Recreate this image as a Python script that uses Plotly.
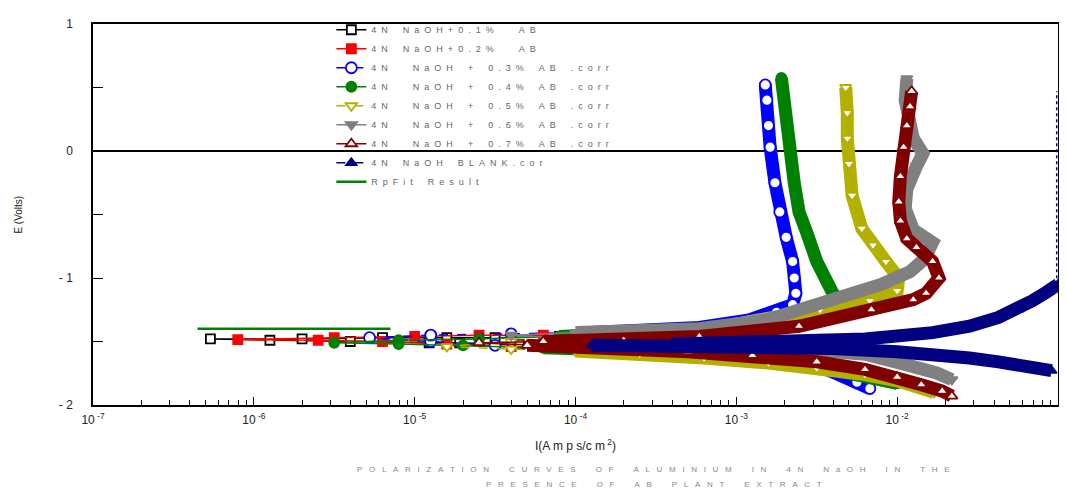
import plotly.graph_objects as go

# ---------------- data (log10 of current density in A/cm^2, potential E in V) ----------------
# 4N NaOH + 0.1% AB (black)
ab01_logI = [-3.8, -4.1, -4.35, -4.72, -4.91, -5.4, -5.9, -6.27, -5.7, -5.2, -4.8, -4.5, -4.1, -3.8]
ab01_E = [-1.52, -1.53, -1.525, -1.51, -1.51, -1.50, -1.49, -1.48, -1.48, -1.47, -1.47, -1.47, -1.46, -1.46]

# 4N NaOH + 0.2% AB (red)
ab02_logI = [-3.2, -3.6, -4.0, -4.4, -4.8, -5.2, -5.6, -6.1, -5.5, -5.0, -4.6, -4.2, -3.8, -3.4, -3.2]
ab02_E = [-1.56, -1.55, -1.55, -1.54, -1.52, -1.50, -1.49, -1.485, -1.47, -1.46, -1.45, -1.45, -1.46, -1.45, -1.44]

# 0.3% AB (blue)
ab03_cath_logI = [-2.17, -2.25, -2.40, -2.60, -2.85, -3.10, -3.40, -3.70, -4.10, -4.50, -4.90, -5.28]
ab03_cath_E = [-1.87, -1.82, -1.74, -1.65, -1.61, -1.585, -1.57, -1.56, -1.545, -1.53, -1.50, -1.47]
ab03_anod_logI = [-4.90, -4.40, -3.90, -3.50, -3.23, -2.92, -2.75, -2.65, -2.63, -2.64, -2.65, -2.69,
                  -2.73, -2.76, -2.79, -2.80, -2.81, -2.82]
ab03_anod_E = [-1.45, -1.44, -1.43, -1.42, -1.39, -1.33, -1.27, -1.21, -1.12, -1.00, -0.87, -0.68,
               -0.48, -0.25, 0.03, 0.20, 0.40, 0.52]

# 0.4% AB (green)
ab04_cath_logI = [-2.00, -2.10, -2.25, -2.45, -2.70, -3.00, -3.40, -3.80, -4.20, -4.70, -5.10, -5.50]
ab04_cath_E = [-1.83, -1.80, -1.76, -1.71, -1.67, -1.63, -1.59, -1.565, -1.55, -1.53, -1.52, -1.51]
ab04_anod_logI = [-5.10, -4.60, -4.10, -3.70, -3.30, -2.92, -2.61, -2.44, -2.34, -2.40, -2.50, -2.56,
                  -2.61, -2.64, -2.67, -2.69, -2.71, -2.72]
ab04_anod_E = [-1.49, -1.48, -1.46, -1.44, -1.41, -1.37, -1.33, -1.28, -1.20, -1.12, -0.87, -0.65,
               -0.48, -0.25, 0.03, 0.25, 0.45, 0.575]

# 0.5% AB (olive)
ab05_cath_logI = [-1.77, -1.85, -2.00, -2.20, -2.50, -2.80, -3.20, -3.60, -4.00, -4.40, -4.80]
ab05_cath_E = [-1.90, -1.86, -1.81, -1.76, -1.71, -1.67, -1.63, -1.60, -1.575, -1.56, -1.54]
ab05_anod_logI = [-4.40, -4.00, -3.60, -3.20, -2.86, -2.48, -2.17, -2.00, -1.99, -2.07, -2.15, -2.22,
                  -2.28, -2.30, -2.31, -2.31, -2.32]
ab05_anod_E = [-1.50, -1.48, -1.45, -1.41, -1.33, -1.25, -1.18, -1.10, -1.00, -0.87, -0.74, -0.61,
               -0.35, -0.10, 0.10, 0.30, 0.50]

# 0.6% AB (gray)
ab06_cath_logI = [-1.66, -1.75, -1.95, -2.20, -2.60, -3.00, -3.50, -4.00, -4.40]
ab06_cath_E = [-1.80, -1.75, -1.68, -1.60, -1.56, -1.54, -1.52, -1.48, -1.45]
ab06_anod_logI = [-4.00, -3.60, -3.23, -2.81, -2.40, -2.10, -1.92, -1.83, -1.78, -1.90, -1.95, -1.94,
                  -1.88, -1.84, -1.90, -1.93, -1.95, -1.94]
ab06_anod_E = [-1.43, -1.42, -1.40, -1.33, -1.18, -1.05, -0.95, -0.85, -0.72, -0.62, -0.45, -0.30,
               -0.12, -0.02, 0.10, 0.25, 0.40, 0.57]

# 0.7% AB (dark red)
ab07_cath_logI = [-1.66, -1.72, -1.85, -2.00, -2.20, -2.50, -2.90, -3.30, -3.80, -4.30, -4.60]
ab07_cath_E = [-1.93, -1.89, -1.84, -1.78, -1.72, -1.66, -1.61, -1.58, -1.555, -1.53, -1.51]
ab07_anod_logI = [-4.20, -3.70, -3.23, -2.61, -2.16, -1.90, -1.82, -1.74, -1.78, -1.88, -1.94, -1.98,
                  -1.99, -1.98, -1.96, -1.94, -1.92, -1.91]
ab07_anod_E = [-1.50, -1.49, -1.46, -1.38, -1.25, -1.17, -1.12, -1.00, -0.87, -0.76, -0.69, -0.55,
               -0.40, -0.20, 0.03, 0.20, 0.35, 0.47]

# BLANK (navy)
blank_cath_logI = [-1.04, -1.20, -1.37, -1.55, -1.78, -2.00, -2.40, -2.80, -3.30, -3.90]
blank_cath_E = [-1.73, -1.69, -1.66, -1.63, -1.60, -1.58, -1.555, -1.545, -1.535, -1.53]
blank_anod_logI = [-3.40, -3.00, -2.60, -2.20, -1.78, -1.55, -1.37, -1.25, -1.16, -1.07, -1.00]
blank_anod_E = [-1.52, -1.515, -1.50, -1.48, -1.43, -1.38, -1.31, -1.25, -1.18, -1.11, -1.05]
# part of the blank curve beyond the axis, drawn along the right border
blank_clip_logI = [-1.008, -1.008]
blank_clip_E = [-1.05, 0.47]

# Rp fit result (green line)
rpfit_logI = [-6.35, -5.15]
rpfit_E = [-1.40, -1.40]

legend_labels = [
    "4N NaOH+0.1%  AB",
    "4N NaOH+0.2%  AB",
    "4N  NaOH + 0.3% AB .corr",
    "4N  NaOH + 0.4% AB .corr",
    "4N  NaOH + 0.5% AB .corr",
    "4N  NaOH + 0.6% AB .corr",
    "4N  NaOH + 0.7% AB .corr",
    "4N NaOH BLANK.cor",
    "RpFit Result",
]

x_tick_exp = [-7, -6, -5, -4, -3, -2, -1]
x_tick_text = ["10<sup> -7</sup>", "10<sup> -6</sup>", "10<sup> -5</sup>", "10<sup> -4</sup>",
               "10<sup> -3</sup>", "10<sup> -2</sup>", "10<sup> -1</sup>"]
y_tick_vals = [-2, -1, 0, 1]
y_tick_text = ["- 2", "- 1", "0", "1"]

title_line1 = "POLARIZATION CURVES OF ALUMINIUM IN 4N NaOH IN THE"
title_line2 = "PRESENCE OF AB PLANT EXTRACT"


def spaced(s, gap):
    """Letter-spaced rendering of a label, as in the original chart."""
    sp = "\u00a0" * gap
    out = []
    for ch in s:
        out.append(sp * 2 if ch == " " else ch + sp)
    return "".join(out).rstrip("\u00a0")


# ---------------- figure ----------------
BAND_W = 13
THR = -4.3
fig = go.Figure()


def to_I(logs):
    return [10 ** v for v in logs]


def add_band(logI, E, color):
    xs = [10 ** l for l in logI if l >= THR]
    ys = [e for l, e in zip(logI, E) if l >= THR]
    fig.add_trace(go.Scatter(x=xs, y=ys, mode="lines", line=dict(color=color, width=BAND_W),
                             showlegend=False, hoverinfo="skip"))


def add_series(name, logI, E, color, symbol, msize, fill, dash="solid", lw=1.5):
    fig.add_trace(go.Scatter(
        x=to_I(logI), y=E, mode="lines+markers", name=spaced(name, 2),
        line=dict(color=color, width=lw, dash=dash),
        marker=dict(symbol=symbol, size=msize, color=fill, line=dict(color=color, width=1.8)),
    ))


add_series(legend_labels[0], ab01_logI, ab01_E, "black", "square", 9, "white")
add_series(legend_labels[1], ab02_logI, ab02_E, "#ff0000", "square", 9, "#ff0000")

series = [
    (legend_labels[2], ab03_cath_logI, ab03_cath_E, ab03_anod_logI, ab03_anod_E, "#0000ff", "circle", 11, "white", "dash"),
    (legend_labels[3], ab04_cath_logI, ab04_cath_E, ab04_anod_logI, ab04_anod_E, "#008000", "circle", 10, "#008000", "solid"),
    (legend_labels[4], ab05_cath_logI, ab05_cath_E, ab05_anod_logI, ab05_anod_E, "#b4b000", "triangle-down", 10, "white", "dash"),
    (legend_labels[5], ab06_cath_logI, ab06_cath_E, ab06_anod_logI, ab06_anod_E, "#808080", "triangle-down", 10, "#808080", "solid"),
    (legend_labels[6], ab07_cath_logI, ab07_cath_E, ab07_anod_logI, ab07_anod_E, "#800000", "triangle-up", 10, "white", "solid"),
    (legend_labels[7], blank_cath_logI, blank_cath_E, blank_anod_logI, blank_anod_E, "#000080", "triangle-up", 9, "#000080", "dash"),
]

for name, cl, ce, al, ae, color, sym, ms, fill, dash in series:
    add_band(cl, ce, color)
    add_band(al, ae, color)
    add_series(name, cl + al, ce + ae, color, sym, ms, fill, dash)

fig.add_trace(go.Scatter(x=to_I(blank_clip_logI), y=blank_clip_E, mode="lines",
                         line=dict(color="#000080", width=1.5, dash="dot"),
                         showlegend=False, hoverinfo="skip"))

fig.add_trace(go.Scatter(x=to_I(rpfit_logI), y=rpfit_E, mode="lines", name=spaced(legend_labels[8], 2),
                         line=dict(color="#008000", width=2.5)))

# the page adds an 8 px body margin, so the figure is 8 px smaller than the window
fig.update_layout(
    width=1059, height=485,
    margin=dict(l=85, r=7, t=8, b=88),
    paper_bgcolor="white", plot_bgcolor="white",
    font=dict(family="Liberation Sans, Arial, sans-serif", color="#222"),
    showlegend=True,
    legend=dict(x=0.247, y=1.023, xanchor="left", yanchor="top",
                bgcolor="rgba(0,0,0,0)", font=dict(size=9, color="#666"),
                tracegroupgap=0, itemclick=False),
    xaxis=dict(
        type="log", range=[-7, -1],
        tickvals=[10 ** e for e in x_tick_exp], ticktext=x_tick_text,
        ticks="inside", ticklen=8, tickwidth=1.2, tickcolor="black",
        minor=dict(ticks="inside", ticklen=5, tickwidth=1, tickcolor="black", dtick="D1", showgrid=False),
        showgrid=False, showline=True, linecolor="black", linewidth=1.5, mirror=True,
        tickfont=dict(size=12, color="#222"), ticklabelstandoff=3,
        zeroline=False,
    ),
    yaxis=dict(
        range=[-2, 1], tickvals=y_tick_vals, ticktext=y_tick_text,
        ticks="inside", ticklen=10, tickwidth=1.2, tickcolor="black",
        minor=dict(ticks="inside", ticklen=10, tickwidth=1.2, tickcolor="black", dtick=0.5, showgrid=False),
        showgrid=False, showline=True, linecolor="black", linewidth=1.5, mirror=True,
        zeroline=True, zerolinecolor="black", zerolinewidth=1.5,
        tickfont=dict(size=12, color="#222"), ticklabelstandoff=16,
    ),
    annotations=[
        dict(text="I(A m p s/c m<sup> 2</sup>)", xref="paper", yref="paper", x=0.5, y=-0.105,
             xanchor="center", yanchor="middle", showarrow=False, font=dict(size=12, color="#222")),
        dict(text="E (Volts)", xref="paper", yref="paper", x=-0.0776, y=0.5, textangle=-90,
             xanchor="center", yanchor="middle", showarrow=False, font=dict(size=10, color="#222")),
        dict(text=spaced(title_line1, 3), xref="paper", yref="paper", x=0.581, y=-0.170,
             xanchor="center", yanchor="middle", showarrow=False, font=dict(size=8, color="#888")),
        dict(text=spaced(title_line2, 3), xref="paper", yref="paper", x=0.581, y=-0.208,
             xanchor="center", yanchor="middle", showarrow=False, font=dict(size=8, color="#888")),
    ],
)

fig.write_html("out.html")
